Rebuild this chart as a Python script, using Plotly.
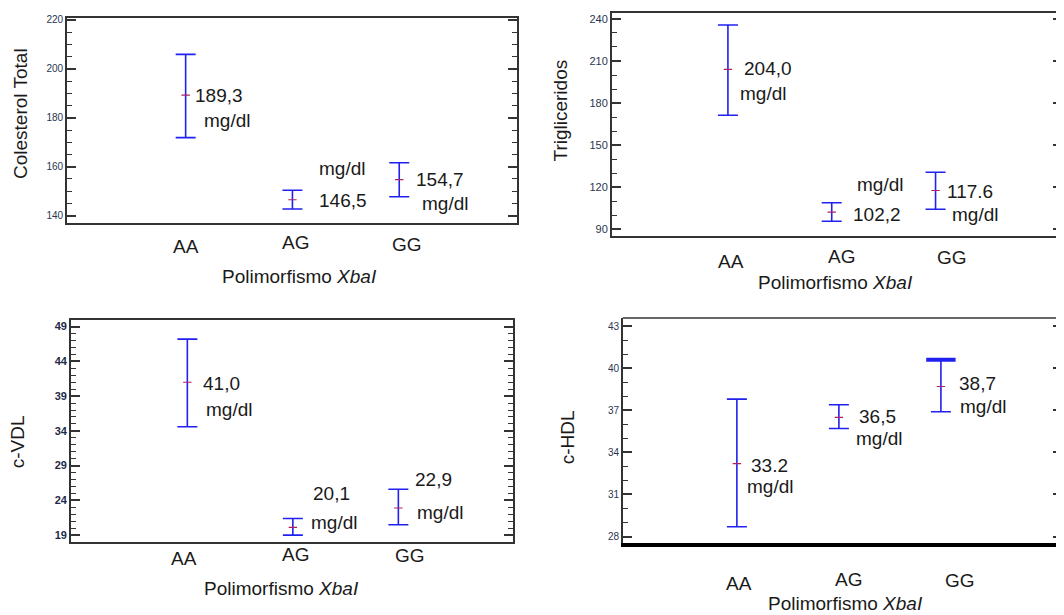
import plotly.graph_objects as go

# page offset (browser body margin) compensation
OFF = 8
W, H = 1064 - OFF, 615 - OFF

categories = ["AA", "AG", "GG"]
x_title = "Polimorfismo <i>XbaI</i>"
unit = "mg/dl"

# Colesterol total
col_mean = [189.3, 146.5, 154.7]
col_upper = [205.9, 150.4, 161.6]
col_lower = [171.9, 142.7, 147.7]
col_labels = ["189,3", "146,5", "154,7"]
col_ticks = [140, 160, 180, 200, 220]

# Trigliceridos
tg_mean = [204.0, 102.2, 117.6]
tg_upper = [235.7, 108.9, 130.6]
tg_lower = [171.3, 95.7, 104.2]
tg_labels = ["204,0", "102,2", "117.6"]
tg_ticks = [90, 120, 150, 180, 210, 240]

# c-VDL
vdl_mean = [41.0, 20.1, 22.9]
vdl_upper = [47.2, 21.4, 25.6]
vdl_lower = [34.6, 19.0, 20.5]
vdl_labels = ["41,0", "20,1", "22,9"]
vdl_ticks = [19, 24, 29, 34, 39, 44, 49]

# c-HDL
hdl_mean = [33.2, 36.5, 38.7]
hdl_upper = [37.8, 37.4, 40.6]
hdl_lower = [28.7, 35.7, 36.9]
hdl_labels = ["33.2", "36,5", "38,7"]
hdl_ticks = [28, 31, 34, 37, 40, 43]

LINE = "#333333"
BLUE = "#2020f0"
TXT = "#1a1a1a"
FONT = "Liberation Sans, Arial, sans-serif"


def fx(px):
    return (px - OFF) / W


def fy(py):
    return 1 - (py - OFF) / H


panels = [
    dict(title="Colesterol Total", mean=col_mean, up=col_upper, lo=col_lower, labels=col_labels,
         ticks=col_ticks, minor=5, box=(67, 518, 14, 220), yr=(137.16, 220.8), xr=(-1.112, 3.103),
         tickfont=dict(size=10, color="#2b3550"), bold=False,
         val_off=[(7, 0), (25, -1), (15, 0)], unit_off=[(16, -25), (25, 31), (21, -24)],
         cat_pos=[(0, -24, 0), (3, -20, 1), (8, -22, 2)], ytitle_pos=(20.7, 110), xtitle_pos=(300, 274)),
    dict(title="Trigliceridos", mean=tg_mean, up=tg_upper, lo=tg_lower, labels=tg_labels,
         ticks=tg_ticks, minor=10, box=(613, 1064, 9, 233), yr=(85.5, 244.25), xr=(-1.118, 3.218),
         tickfont=dict(size=11, color="#2b3550"), bold=False,
         val_off=[(14, 1), (19, -2), (9, -1)], unit_off=[(10, -24), (23, 28), (14, -24)],
         cat_pos=[(3, -26, 0), (10, -21, 1), (16, -22, 2)], ytitle_pos=(561.7, 107.5), xtitle_pos=(836.7, 280)),
    dict(title="c-VDL", mean=vdl_mean, up=vdl_upper, lo=vdl_lower, labels=vdl_labels,
         ticks=vdl_ticks, minor=1, box=(71, 514, 318, 542), yr=(17.94, 49.96), xr=(-1.104, 3.087),
         tickfont=dict(size=11, color="#1f2a48"), bold=True,
         val_off=[(14, -1), (18, 34), (15, 29)], unit_off=[(17, -27), (16, 5), (17, -4)],
         cat_pos=[(-3, -16, 0), (3, -12, 1), (12, -13, 2)], ytitle_pos=(18.3, 440.8), xtitle_pos=(281.7, 588.3)),
    dict(title="c-HDL", mean=hdl_mean, up=hdl_upper, lo=hdl_lower, labels=hdl_labels,
         ticks=hdl_ticks, minor=1, box=(624, 1064, 316, 543), yr=(27.505, 43.587), xr=(-1.118, 3.187),
         tickfont=dict(size=10, color="#2b3550"), bold=False,
         val_off=[(12, -2), (18, 1), (16, 3)], unit_off=[(8, -23), (15, -21), (17, -20)],
         cat_pos=[(2, -40, 0), (10, -36, 1), (19, -37, 2)], ytitle_pos=(569.3, 435.8), xtitle_pos=(846.7, 603.3)),
]

fig = go.Figure()
annotations = []
shapes = []

for i, p in enumerate(panels):
    n = "" if i == 0 else str(i + 1)
    xa, ya = "x" + n, "y" + n
    x0, x1, y0, y1 = p["box"]
    err_plus = [u - m for u, m in zip(p["up"], p["mean"])]
    err_minus = [m - l for m, l in zip(p["mean"], p["lo"])]
    fig.add_trace(go.Scatter(
        x=categories, y=p["mean"], mode="markers", xaxis=xa, yaxis=ya, showlegend=False,
        marker=dict(symbol="line-ew", size=6, line=dict(color="#b0205a", width=1.2)),
        error_y=dict(type="data", symmetric=False, array=err_plus, arrayminus=err_minus,
                     color=BLUE, thickness=1.6, width=10),
    ))
    if i == 3:
        # heavier upper cap on GG
        fig.add_trace(go.Scatter(
            x=[categories[2]], y=[p["up"][2]], mode="markers", xaxis=xa, yaxis=ya, showlegend=False,
            marker=dict(symbol="line-ew", size=21, line=dict(color=BLUE, width=4)),
        ))

    ticktext = [("<b>%d</b>" % t) if p["bold"] else str(t) for t in p["ticks"]]
    xkey = "xaxis" + n
    ykey = "yaxis" + n
    fig.layout[xkey] = dict(
        domain=[max(0, fx(x0)), min(1, fx(x1))], range=list(p["xr"]), anchor=ya, type="category",
        showline=True, linecolor="#000000" if i == 3 else LINE, linewidth=4 if i == 3 else 1.6,
        mirror=(i != 3), ticks="", showticklabels=False, showgrid=False, zeroline=False,
        categoryorder="array", categoryarray=categories,
    )
    fig.layout[ykey] = dict(
        domain=[max(0, fy(y1)), min(1, fy(y0))], range=list(p["yr"]), anchor=xa,
        showline=True, linecolor=LINE, linewidth=1.6, mirror="ticks",
        ticks="inside", ticklen=9, tickwidth=1.5, tickcolor=LINE,
        tickmode="array", tickvals=p["ticks"], ticktext=ticktext,
        tickfont=dict(family=FONT, **p["tickfont"]),
        minor=dict(ticks="inside", ticklen=5, tickwidth=1.3, tickcolor=LINE,
                   dtick=p["minor"], tick0=p["ticks"][0], showgrid=False),
        showgrid=False, zeroline=False,
    )
    if i == 3:
        shapes.append(dict(type="line", xref=xa + " domain", yref=ya + " domain",
                           x0=0, x1=1, y0=1, y1=1, line=dict(color=LINE, width=1.6)))

    # value labels
    for k, cat in enumerate(categories):
        dx, dy = p["val_off"][k]
        annotations.append(dict(x=cat, y=p["mean"][k], xref=xa, yref=ya, text=p["labels"][k],
                                showarrow=False, xanchor="left", yanchor="middle",
                                xshift=dx, yshift=dy, font=dict(family=FONT, size=19, color=TXT)))
        ux, uy = p["unit_off"][k]
        annotations.append(dict(x=cat, y=p["mean"][k], xref=xa, yref=ya, text=unit,
                                showarrow=False, xanchor="left", yanchor="middle",
                                xshift=ux, yshift=uy, font=dict(family=FONT, size=19, color=TXT)))
    # category labels
    for dx, py, k in p["cat_pos"]:
        annotations.append(dict(x=categories[k], y=0, xref=xa, yref=ya + " domain", text=categories[k],
                                showarrow=False, xanchor="center", yanchor="middle",
                                xshift=dx, yshift=py, font=dict(family=FONT, size=19, color=TXT)))
    # axis titles
    tx, ty = p["ytitle_pos"]
    annotations.append(dict(x=fx(tx), y=fy(ty), xref="paper", yref="paper", text=p["title"],
                            showarrow=False, textangle=-90, xanchor="center", yanchor="middle",
                            font=dict(family=FONT, size=19, color=TXT)))
    tx, ty = p["xtitle_pos"]
    annotations.append(dict(x=fx(tx), y=fy(ty), xref="paper", yref="paper", text=x_title,
                            showarrow=False, xanchor="center", yanchor="middle",
                            font=dict(family=FONT, size=19, color=TXT)))

fig.update_layout(
    width=W, height=H, margin=dict(l=0, r=0, t=0, b=0),
    paper_bgcolor="white", plot_bgcolor="white",
    annotations=annotations, shapes=shapes, showlegend=False,
    font=dict(family=FONT, color=TXT),
)

fig.write_html("out.html")
